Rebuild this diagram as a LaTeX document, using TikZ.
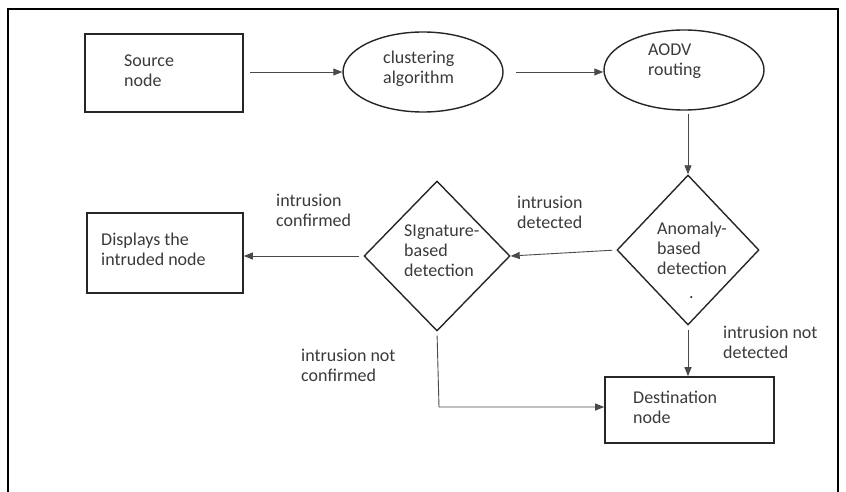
\documentclass[tikz,border=0pt]{standalone}
\usepackage{fontspec}
\setmainfont{Carlito}
\usetikzlibrary{shapes.geometric,arrows.meta}
\definecolor{txt}{HTML}{3A3A3A}
\definecolor{edge}{HTML}{262626}
\definecolor{conn}{HTML}{4A4A4A}
\tikzset{
  boxshape/.style={draw=edge,line width=1.6pt,rectangle,inner sep=0pt},
  ovalshape/.style={draw=edge,line width=1.4pt,ellipse,inner sep=0pt,minimum width=160pt,minimum height=80pt},
  decshape/.style={draw=edge,line width=1.4pt,diamond,inner sep=0pt},
  lbl/.style={anchor=west,align=left,inner sep=0pt,text=txt,font=\fontsize{18}{20}\selectfont},
  conn/.style={draw=conn,line width=0.9pt,-{Triangle[length=9pt,width=7pt]}},
}
\begin{document}
\begin{tikzpicture}[x=1pt,y=-1pt]
\useasboundingbox (0,0) rectangle (846,492);
% frame
\coordinate (f1) at (8,492);
\coordinate (f2) at (8,9);
\coordinate (f3) at (838,9);
\coordinate (f4) at (838,492);
\draw[line width=1.6pt,black] (f1) -- (f2) -- (f3) -- (f4);
% shapes
\node[boxshape,minimum width=158pt,minimum height=78pt] (src) at (164,73) {};
\node[ovalshape] (clust) at (423,72) {};
\node[ovalshape] (aodv) at (684,70) {};
\node[decshape,minimum width=142pt,minimum height=150pt] (anom) at (688,250) {};
\node[decshape,minimum width=146pt,minimum height=150pt] (sig) at (437,256) {};
\node[boxshape,minimum width=156pt,minimum height=80pt] (disp) at (165,253) {};
\node[boxshape,minimum width=169pt,minimum height=66pt] (dest) at (689.5,410) {};
% texts
\node[lbl] (srcT) at (124,71) {Source\\node};
\node[lbl] (clustT) at (383,69) {clustering\\algorithm};
\node[lbl] (aodvT) at (648,61) {AODV\\routing};
\node[lbl] (anomT) at (657,248) {Anomaly-\\based\\detection};
\node[lbl] (dotT) at (689,298) {.};
\node[lbl] (sigT) at (404,251) {SIgnature-\\based\\detection};
\node[lbl] (dispT) at (101,249) {Displays the\\intruded node};
\node[lbl] (destT) at (633,407) {Destination\\node};
\node[lbl] (l1) at (276,210) {intrusion\\confirmed};
\node[lbl] (l2) at (517,212) {intrusion\\detected};
\node[lbl] (l3) at (723,342) {intrusion not\\detected};
\node[lbl] (l4) at (301,365) {intrusion not\\confirmed};
% connectors
\draw[conn,shorten <=6pt] (src.east |- 0,72) -- (clust.west |- 0,72);
\draw[conn,shorten <=12pt] (clust.east) -- (aodv.west |- clust.east);
\draw[conn,shorten <=3pt] (aodv.south -| anom.north) -- (anom.north);
\draw[conn,shorten <=4pt] (anom.west) -- (sig.east);
\draw[conn,shorten <=4pt] (sig.west) -- (sig.west -| disp.east);
\coordinate (corner) at (439,407);
\draw[conn,shorten <=4pt] (sig.south) -- (corner) -- (corner -| dest.west);
\draw[conn,shorten <=4pt] (anom.south) -- (dest.north -| anom.south);
\end{tikzpicture}
\end{document}
